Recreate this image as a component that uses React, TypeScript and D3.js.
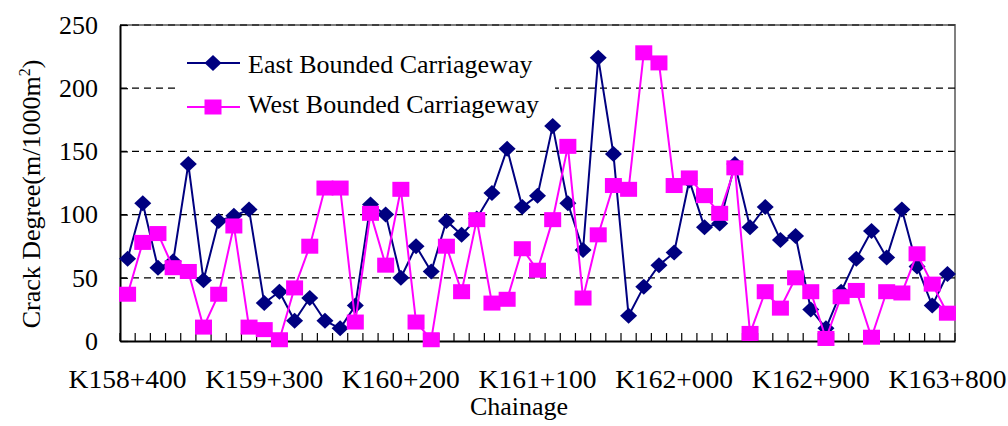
import React, { Component } from "react";
import * as d3 from "d3";

const chainage = [
  "K158+400", "K158+500", "K158+600", "K158+700", "K158+800", "K158+900",
  "K159+000", "K159+100", "K159+200", "K159+300", "K159+400", "K159+500", "K159+600", "K159+700", "K159+800", "K159+900",
  "K160+000", "K160+100", "K160+200", "K160+300", "K160+400", "K160+500", "K160+600", "K160+700", "K160+800", "K160+900",
  "K161+000", "K161+100", "K161+200", "K161+300", "K161+400", "K161+500", "K161+600", "K161+700", "K161+800", "K161+900",
  "K162+000", "K162+100", "K162+200", "K162+300", "K162+400", "K162+500", "K162+600", "K162+700", "K162+800", "K162+900",
  "K163+000", "K163+100", "K163+200", "K163+300", "K163+400", "K163+500", "K163+600", "K163+700", "K163+800",
];

const tickLabels = ["K158+400", "K159+300", "K160+200", "K161+100", "K162+000", "K162+900", "K163+800"];

const eastBound = [
  65, 109, 58, 63, 140, 48, 95, 99, 104, 30,
  39, 16, 34, 16, 10, 28, 108, 100, 50, 75,
  55, 95, 84, 97, 117, 152, 106, 115, 170, 109,
  72, 224, 148, 20, 43, 60, 70, 127, 90, 93,
  140, 90, 106, 80, 83, 25, 10, 39, 65, 87,
  66, 104, 59, 28, 53,
];

const westBound = [
  37, 78, 85, 58, 55, 11, 37, 91, 11, 9,
  1, 42, 75, 121, 121, 15, 101, 60, 120, 15,
  1, 75, 39, 96, 30, 33, 73, 56, 96, 154,
  34, 84, 123, 120, 228, 220, 123, 129, 115, 101,
  137, 6, 39, 26, 50, 39, 2, 35, 40, 3,
  39, 38, 69, 45, 22,
];

const yTicks = [0, 50, 100, 150, 200, 250];

const FONT = "'Liberation Serif', 'Times New Roman', serif";
const NAVY = "#000080";
const PINK = "#ff00ff";

class App extends Component {
  el: SVGSVGElement | null = null;

  componentDidMount() {
    this.drawChart();
  }

  diamond(g: any, cx: number, cy: number) {
    g.append("path")
      .attr("d", `M${cx},${cy - 8}L${cx + 8.5},${cy}L${cx},${cy + 8}L${cx - 8.5},${cy}Z`)
      .attr("fill", NAVY);
  }

  square(g: any, cx: number, cy: number) {
    g.append("rect")
      .attr("x", cx - 8.5)
      .attr("y", cy - 7.5)
      .attr("width", 17)
      .attr("height", 15)
      .attr("fill", PINK);
  }

  drawChart() {
    const svg = d3.select(this.el);
    svg.selectAll("*").remove();

    const left = 120, right = 955, top = 25, bottom = 341;

    const x = d3.scaleBand().domain(chainage).range([left, right]);
    const y = d3.scaleLinear().domain([0, 250]).range([bottom, top]);
    const cx = (c: string) => (x(c) as number) + x.bandwidth() / 2;

    // grey border on top and right
    svg.append("path")
      .attr("d", `M${left},${top}H${right}V${bottom}`)
      .attr("fill", "none")
      .attr("stroke", "#808080")
      .attr("stroke-width", 2);

    // dashed gridlines
    svg.append("g")
      .selectAll("line")
      .data(yTicks.slice(1))
      .join("line")
      .attr("x1", left)
      .attr("x2", right)
      .attr("y1", d => y(d))
      .attr("y2", d => y(d))
      .attr("stroke", "#000")
      .attr("stroke-width", 1.2)
      .attr("stroke-dasharray", "7,5");

    // y axis
    const yAxis = svg.append("g")
      .attr("transform", `translate(${left},0)`)
      .call(d3.axisLeft(y).tickValues(yTicks).tickSize(-8).tickSizeOuter(0).tickPadding(22));
    yAxis.select(".domain").attr("stroke", "#000").attr("stroke-width", 2);
    yAxis.selectAll(".tick line").attr("stroke", "#000").attr("stroke-width", 1.2);
    yAxis.selectAll("text")
      .attr("font-family", FONT)
      .attr("font-size", 26)
      .attr("fill", "#000");

    // x axis: ticks at category boundaries, labels every 9th chainage
    const bounds = chainage.map(c => x(c) as number).concat([right]);
    svg.append("g")
      .selectAll("line")
      .data(bounds)
      .join("line")
      .attr("x1", d => d)
      .attr("x2", d => d)
      .attr("y1", bottom)
      .attr("y2", bottom - 8)
      .attr("stroke", "#000")
      .attr("stroke-width", 1.2);

    const xAxis = svg.append("g")
      .attr("transform", `translate(0,${bottom})`)
      .call(d3.axisBottom(x).tickValues(tickLabels).tickSize(0).tickSizeOuter(0));
    xAxis.select(".domain").attr("stroke", "#000").attr("stroke-width", 2);
    xAxis.selectAll("text")
      .attr("y", 47)
      .attr("dy", null)
      .attr("font-family", FONT)
      .attr("font-size", 26)
      .attr("textLength", 118)
      .attr("lengthAdjust", "spacingAndGlyphs")
      .attr("fill", "#000");

    // axis titles
    svg.append("text")
      .attr("x", 519)
      .attr("y", 415)
      .attr("text-anchor", "middle")
      .attr("font-family", FONT)
      .attr("font-size", 26)
      .text("Chainage");

    const yTitle = svg.append("text")
      .attr("transform", "translate(40,194) rotate(-90)")
      .attr("text-anchor", "middle")
      .attr("font-family", FONT)
      .attr("font-size", 26);
    yTitle.append("tspan").text("Crack Degree(m/1000m");
    yTitle.append("tspan").attr("dy", -10).attr("font-size", 16).text("2");
    yTitle.append("tspan").attr("dy", 10).text(")");

    // legend background
    svg.append("rect")
      .attr("x", 175).attr("y", 40)
      .attr("width", 380).attr("height", 88)
      .attr("fill", "#fff");

    const line = d3.line<number>()
      .x((d, i) => cx(chainage[i]))
      .y(d => y(d));

    // east bounded
    svg.append("path")
      .attr("d", line(eastBound))
      .attr("fill", "none")
      .attr("stroke", NAVY)
      .attr("stroke-width", 2);
    const eastG = svg.append("g");
    eastBound.forEach((v, i) => this.diamond(eastG, cx(chainage[i]), y(v)));

    // west bounded
    svg.append("path")
      .attr("d", line(westBound))
      .attr("fill", "none")
      .attr("stroke", PINK)
      .attr("stroke-width", 2);
    const westG = svg.append("g");
    westBound.forEach((v, i) => this.square(westG, cx(chainage[i]), y(v)));

    // legend
    const legend = [
      { name: "East Bounded Carriageway", color: NAVY, ly: 63, ty: 73 },
      { name: "West Bounded Carriageway", color: PINK, ly: 107, ty: 113 },
    ];
    legend.forEach((d, i) => {
      svg.append("line")
        .attr("x1", 187).attr("x2", 240)
        .attr("y1", d.ly).attr("y2", d.ly)
        .attr("stroke", d.color)
        .attr("stroke-width", 2);
      if (i === 0) this.diamond(svg, 213, d.ly);
      else this.square(svg, 213, d.ly);
      svg.append("text")
        .attr("x", 248)
        .attr("y", d.ty)
        .attr("font-family", FONT)
        .attr("font-size", 26)
        .attr("fill", "#000")
        .text(d.name);
    });
  }

  render() {
    return (
      <svg
        ref={el => (this.el = el)}
        width={1008}
        height={426}
        style={{ position: "absolute", left: 0, top: 0, background: "#fff" }}
      />
    );
  }
}

export default App;
